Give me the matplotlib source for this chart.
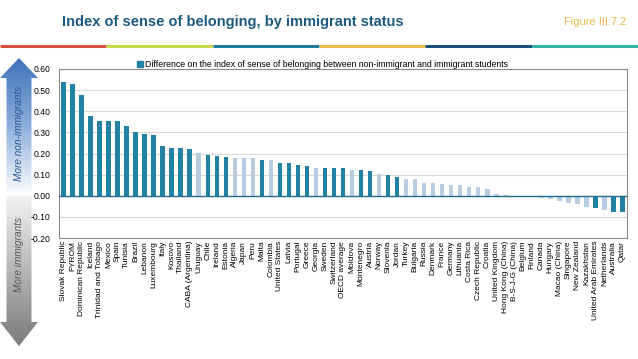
import numpy as np, matplotlib.pyplot as plt
from matplotlib.patches import Polygon
from matplotlib.colors import LinearSegmentedColormap

countries = ["Slovak Republic", "FYROM", "Dominican Republic", "Iceland", "Trinidad and Tobago",
             "Mexico", "Spain", "Tunisia", "Brazil", "Lebanon", "Luxembourg", "Italy", "Kosovo",
             "Thailand", "CABA (Argentina)", "Uruguay", "Chile", "Ireland", "Estonia", "Algeria",
             "Japan", "Peru", "Malta", "Colombia", "United States", "Latvia", "Portugal", "Greece",
             "Georgia", "Sweden", "Switzerland", "OECD average", "Moldova", "Montenegro", "Austria",
             "Norway", "Slovenia", "Jordan", "Turkey", "Bulgaria", "Russia", "Denmark", "France",
             "Germany", "Lithuania", "Costa Rica", "Czech Republic", "Croatia", "United Kingdom",
             "Hong Kong (China)", "B-S-J-G (China)", "Belgium", "Finland", "Canada", "Hungary",
             "Macao (China)", "Singapore", "New Zealand", "Kazakhstan", "United Arab Emirates",
             "Netherlands", "Australia", "Qatar"]
diff = [0.539, 0.528, 0.478, 0.376, 0.355, 0.355, 0.354, 0.332, 0.303, 0.294, 0.286, 0.236, 0.228,
        0.227, 0.219, 0.203, 0.195, 0.186, 0.184, 0.181, 0.181, 0.178, 0.171, 0.167, 0.157, 0.157,
        0.146, 0.143, 0.132, 0.131, 0.131, 0.129, 0.124, 0.123, 0.119, 0.105, 0.096, 0.090, 0.080,
        0.077, 0.062, 0.061, 0.057, 0.050, 0.050, 0.041, 0.041, 0.030, 0.006, 0.005, 0.001, 0.001,
        -0.007, -0.010, -0.016, -0.025, -0.035, -0.038, -0.052, -0.057, -0.068, -0.078, -0.079]
# 1 = statistically significant (dark bar), 0 = not significant (light bar)
signif = [1]*15 + [0, 1, 1, 1, 0, 0, 0, 1, 0, 1, 1, 1, 1, 0, 1, 1, 1, 0, 1, 1, 0, 1, 1] + [0]*21 + [1, 0, 1, 1]
yticks = [-0.2, -0.1, 0.0, 0.1, 0.2, 0.3, 0.4, 0.5, 0.6]

dark, light = "#2381a3", "#b9cde2"
plt.rcParams['font.family'] = ['Liberation Sans', 'DejaVu Sans']

fig = plt.figure(figsize=(6.38, 3.59), dpi=100)

# page decoration: title, figure number, coloured band, side arrow
deco = fig.add_axes([0, 0, 1, 1])
deco.set_xlim(0, 638); deco.set_ylim(359, 0); deco.axis('off')
deco.text(62, 22, "Index of sense of belonging, by immigrant status", fontsize=10.5,
          fontweight='bold', color="#1b5b80", va='center')
deco.text(626, 22, "Figure III.7.2", fontsize=8, color="#e6bb4e", va='center', ha='right')
band = ["#d5503a", "#c8d84f", "#1f7c9e", "#e6bd48", "#1d4f7c", "#2fb3a0"]
for i, c in enumerate(band):
    deco.plot([i*638/6, (i+1)*638/6], [46, 46], color=c, lw=2.2, solid_capstyle='butt')

cx, hw, sw = 19, 19, 12.5
up = Polygon([(cx, 58), (cx+hw, 78), (cx+sw, 78), (cx+sw, 196), (cx-sw, 196), (cx-sw, 78), (cx-hw, 78)],
             closed=True, fc='none', ec='none')
dn = Polygon([(cx-sw, 196), (cx+sw, 196), (cx+sw, 322), (cx+hw, 322), (cx, 346), (cx-hw, 322), (cx-sw, 322)],
             closed=True, fc='none', ec='none')
deco.add_patch(up); deco.add_patch(dn)
grad = np.linspace(0, 1, 256).reshape(-1, 1)
blue = LinearSegmentedColormap.from_list("b", ["#3f72b8", "#8fb0dc", "#ffffff"])
grey = LinearSegmentedColormap.from_list("g", ["#f2f2f2", "#b5b5b5", "#7a7a7a"])
im1 = deco.imshow(grad, cmap=blue, extent=(0, 40, 196, 58), aspect='auto')
im1.set_clip_path(up)
im2 = deco.imshow(grad, cmap=grey, extent=(0, 40, 346, 196), aspect='auto')
im2.set_clip_path(dn)
deco.set_xlim(0, 638); deco.set_ylim(359, 0)
deco.text(cx, 133, "More non-immigrants", rotation=90, style='italic', fontsize=7.2,
          color="#2c5a98", ha='center', va='center')
deco.text(cx, 255, "More immigrants", rotation=90, style='italic', fontsize=7.2,
          color="#595959", ha='center', va='center')

# chart
ax = fig.add_axes([59/638, 1-238/359, (627-59)/638, (238-69)/359])
x = np.arange(len(countries))
ax.bar(x, diff, width=0.5, color=[dark if s else light for s in signif], zorder=2,
       label="Difference on the index of sense of belonging between non-immigrant and immigrant students")
ax.axhline(0, color="#1f6f8f", lw=1, zorder=3)
ax.set_ylim(-0.2, 0.6)
ax.set_xlim(-0.5, len(countries)-0.5)
ax.set_yticks(yticks)
ax.set_yticklabels([f"{v:.2f}" for v in yticks], fontsize=6.2)
ax.set_xticks(x)
ax.set_xticklabels(countries, rotation=90, fontsize=6.0)
ax.tick_params(length=0)
ax.tick_params(axis='y', pad=6)
ax.tick_params(axis='x', pad=2)
ax.yaxis.grid(True, color="#d9d9d9", lw=0.8, zorder=0)
for s in ax.spines.values():
    s.set_color("#8c8c8c"); s.set_linewidth(0.8)
leg = ax.legend(loc='lower left', bbox_to_anchor=(0.135, 0.99), frameon=False, fontsize=6.3,
                handlelength=0.6, handleheight=0.6, handletextpad=0.3, borderaxespad=0, borderpad=0.2)
leg.legend_handles[0].set_color(dark)

fig.savefig("out.png", dpi=100)
